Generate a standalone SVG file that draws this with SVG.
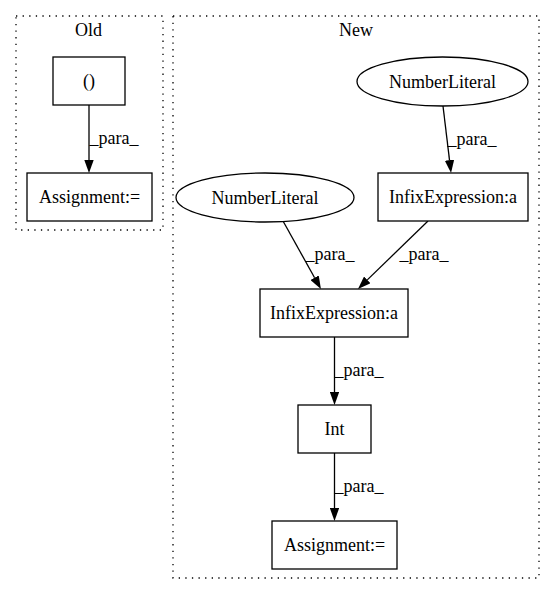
<svg xmlns="http://www.w3.org/2000/svg" width="555" height="596" viewBox="0 0 555 596">
<style>
text{font-family:"Liberation Serif","Times New Roman",serif;font-size:18px;fill:#000}
.c{text-anchor:middle}
.node{fill:#fff;stroke:#000;stroke-width:1.3}
.cl{fill:none;stroke:#000;stroke-width:1.3;stroke-dasharray:1.3,5.3}
.e{fill:none;stroke:#000;stroke-width:1.3}
</style>
<defs>
<marker id="ah" viewBox="0 0 13 9.4" refX="0" refY="4.7" markerWidth="13" markerHeight="9.4" markerUnits="userSpaceOnUse" orient="auto">
<path d="M0,0 L13,4.7 L0,9.4 z" fill="#000"/>
</marker>
</defs>
<rect width="555" height="596" fill="#fff"/>
<g id="cluster_old">
<rect class="cl" x="16" y="16" width="147" height="214"/>
<text class="c" x="88.5" y="36">Old</text>
</g>
<g id="cluster_new">
<rect class="cl" x="173" y="16" width="366" height="562"/>
<text class="c" x="356" y="36">New</text>
</g>
<g id="edges">
<path class="e" d="M89,105 L89,160" marker-end="url(#ah)"/>
<text class="c" x="114" y="144">_para_</text>
<path class="e" d="M443,106 L449.5,160.1" marker-end="url(#ah)"/>
<text class="c" x="472" y="144.5">_para_</text>
<path class="e" d="M283,221 L314.6,277.7" marker-end="url(#ah)"/>
<text class="c" x="330" y="260">_para_</text>
<path class="e" d="M428,221 L367.3,279.9" marker-end="url(#ah)"/>
<text class="c" x="424" y="260">_para_</text>
<path class="e" d="M334.5,337 L334.5,392" marker-end="url(#ah)"/>
<text class="c" x="359" y="376">_para_</text>
<path class="e" d="M334.5,453 L334.5,508" marker-end="url(#ah)"/>
<text class="c" x="359" y="492">_para_</text>
</g>
<g id="n_paren">
<rect class="node" x="53" y="57" width="72" height="48"/>
<text class="c" x="89" y="87">()</text>
</g>
<g id="n_assign_old">
<rect class="node" x="27" y="173" width="125" height="48"/>
<text class="c" x="89.5" y="203">Assignment:=</text>
</g>
<g id="n_numlit_top">
<ellipse class="node" cx="442.5" cy="81.5" rx="85.5" ry="24.5"/>
<text class="c" x="442.5" y="87.5">NumberLiteral</text>
</g>
<g id="n_infix_top">
<rect class="node" x="378" y="173" width="150" height="48"/>
<text class="c" x="453" y="203">InfixExpression:a</text>
</g>
<g id="n_numlit_left">
<ellipse class="node" cx="265" cy="197.5" rx="89" ry="24.5"/>
<text class="c" x="265" y="203.5">NumberLiteral</text>
</g>
<g id="n_infix_bot">
<rect class="node" x="260" y="289" width="148" height="48"/>
<text class="c" x="334" y="319">InfixExpression:a</text>
</g>
<g id="n_int">
<rect class="node" x="298" y="405" width="73" height="48"/>
<text class="c" x="334.5" y="435">Int</text>
</g>
<g id="n_assign_new">
<rect class="node" x="272" y="521" width="125" height="48"/>
<text class="c" x="334.5" y="551">Assignment:=</text>
</g>
</svg>
